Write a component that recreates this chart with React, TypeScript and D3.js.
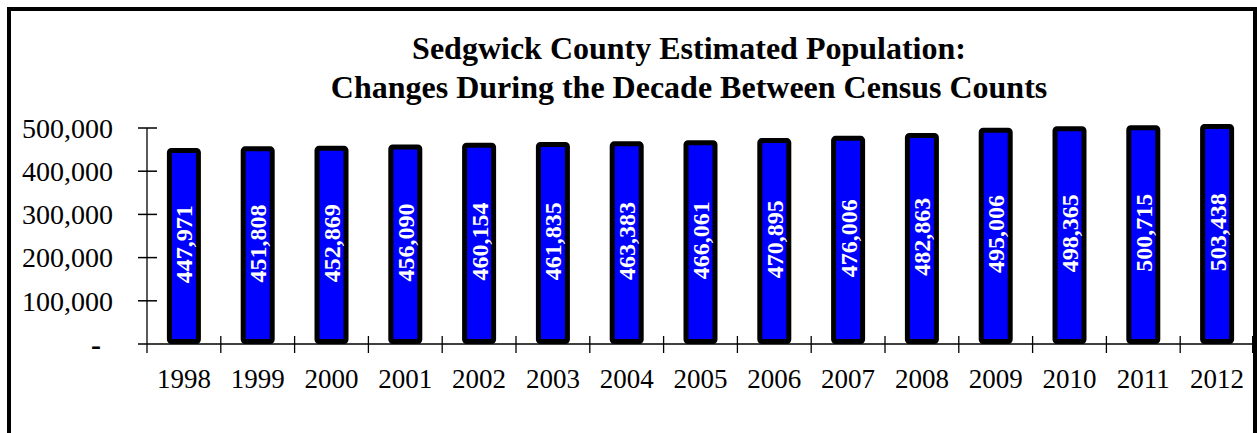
import React from "react";
import * as d3 from "d3";

const years = ["1998", "1999", "2000", "2001", "2002", "2003", "2004", "2005", "2006", "2007", "2008", "2009", "2010", "2011", "2012"];
const population = [447971, 451808, 452869, 456090, 460154, 461835, 463383, 466061, 470895, 476006, 482863, 495006, 498365, 500715, 503438];
const yTicks = [0, 100000, 200000, 300000, 400000, 500000];
const titleLines = ["Sedgwick County Estimated Population:", "Changes During the Decade Between Census Counts"];

const W = 1257;
const H = 433;
const FONT = "'Liberation Serif', 'Times New Roman', serif";

export default function App() {
  const plotLeft = 147;
  const plotRight = 1254;
  const y0 = 344;
  const y = d3.scaleLinear().domain([0, 500000]).range([y0, 128]);
  const x = d3.scaleBand<string>().domain(years).range([plotLeft, plotRight]).paddingInner(0).paddingOuter(0);
  const bw = x.bandwidth();
  const barW = 29;
  const fmt = d3.format(",");

  return (
    <div style={{ position: "absolute", left: 0, top: 0 }}>
      <svg width={W} height={H} style={{ display: "block", background: "#fff" }}>
        {/* frame */}
        <path d={`M9,${H} V9 H1255 V${H}`} fill="none" stroke="#000" strokeWidth={4} />

        {/* title */}
        {titleLines.map((t, i) => (
          <text key={t} x={689} y={59 + i * 39} textAnchor="middle" fontFamily={FONT} fontWeight="bold" fontSize={32} fill="#000">
            {t}
          </text>
        ))}

        {/* y axis */}
        <line x1={plotLeft} x2={plotLeft} y1={y(500000)} y2={353} stroke="#000" strokeWidth={1.3} />
        {yTicks.map((t) => (
          <g key={t}>
            {t > 0 && <line x1={138} x2={157} y1={y(t)} y2={y(t)} stroke="#000" strokeWidth={1.5} />}
            <text
              x={t === 0 ? 101 : 113}
              y={y(t)}
              dy="0.35em"
              textAnchor="end"
              fontFamily={FONT}
              fontSize={t === 0 ? 30 : 28}
              fontWeight={t === 0 ? "bold" : "normal"}
              fill="#000"
            >
              {t === 0 ? "-" : fmt(t)}
            </text>
          </g>
        ))}

        {/* x axis */}
        <line x1={plotLeft - 9} x2={plotRight} y1={y0} y2={y0} stroke="#000" strokeWidth={1.3} />
        {years.slice(1).map((yr) => (
          <line key={yr} x1={x(yr)!} x2={x(yr)!} y1={336} y2={353} stroke="#000" strokeWidth={1.3} />
        ))}
        <line x1={plotRight - 1} x2={plotRight - 1} y1={336} y2={353} stroke="#000" strokeWidth={2} />

        {/* bars */}
        {years.map((yr, i) => {
          const cx = x(yr)! + bw / 2;
          const top = y(population[i]);
          const bottom = y0 - 2.5;
          return (
            <g key={yr}>
              <rect
                x={cx - barW / 2}
                y={top}
                width={barW}
                height={bottom - top}
                rx={2}
                fill="#0000ff"
                stroke="#000"
                strokeWidth={5}
              />
              <text
                transform={`translate(${cx},${(top + y0) / 2 - 3}) rotate(-90)`}
                textAnchor="middle"
                dy="0.35em"
                fontFamily={FONT}
                fontWeight="bold"
                fontSize={24}
                fill="#fff"
              >
                {fmt(population[i])}
              </text>
              <text x={cx} y={388} textAnchor="middle" fontFamily={FONT} fontSize={27} fill="#000">
                {yr}
              </text>
            </g>
          );
        })}
      </svg>
    </div>
  );
}
